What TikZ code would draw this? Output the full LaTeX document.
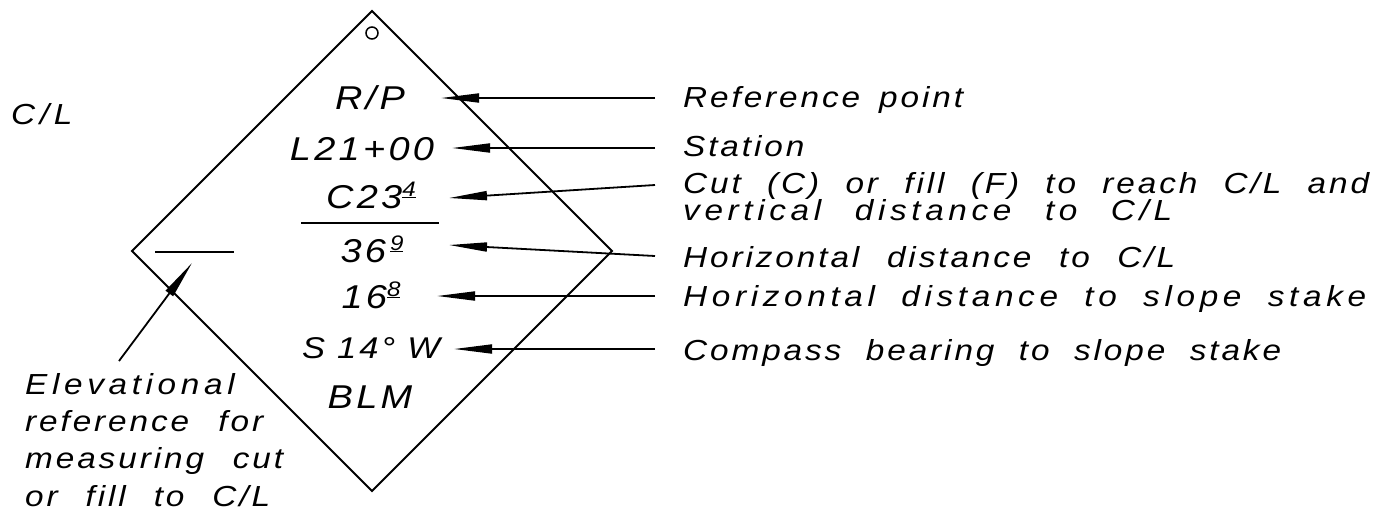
\documentclass[tikz,border=0pt]{standalone}
\usepackage{fontspec}
\setmainfont{Liberation Sans}
\newfontfamily\cadfont{Liberation Sans}[FakeStretch=1.15,LetterSpace=10,WordSpace=1.5]
\newfontfamily\cadwide{Liberation Sans}[FakeStretch=1.15,LetterSpace=16,WordSpace=1.5]
\usetikzlibrary{arrows.meta}
\newcommand\supu[1]{\raisebox{12pt}{\fontsize{21}{21}\selectfont\underline{#1}}}
\newcommand\fitw[2]{\makebox[#1][s]{#2}}
\begin{document}
\begin{tikzpicture}[x=1pt,y=-1pt,
  lbl/.style={font=\cadfont\itshape\fontsize{29}{29}\selectfont, inner sep=0pt, anchor=base west},
  ctr/.style={font=\cadfont\itshape\fontsize{33}{33}\selectfont, inner sep=0pt, anchor=base},
  ln/.style={line width=1.8pt, line join=miter},
  ldr/.style={line width=1.8pt, -{Triangle[length=38pt,width=9pt]}}]
\useasboundingbox (0,0) rectangle (1379,512);
% stake outline
\coordinate (top) at (372,11);
\coordinate (rgt) at (612,251);
\coordinate (bot) at (372,491);
\coordinate (lft) at (132,251);
\draw[ln] (top) -- (rgt) -- (bot) -- (lft) -- cycle;
\node[circle, draw, line width=1.5pt, minimum size=12pt, inner sep=0pt] (hole) at (372,33) {};
% elevation line and fraction bar
\coordinate (elA) at (155,252);
\coordinate (elB) at (234,252);
\draw[ln] (elA) -- (elB);
\coordinate (frA) at (301,223);
\coordinate (frB) at (439,223);
\draw[ln] (frA) -- (frB);
% stake texts
\node[ctr] (rp) at (370,109) {R/P};
\node[ctr] (sta) at (362,160) {L21+00};
\node[ctr] (cut) at (371,208) {C23\supu{4}};
\node[ctr] (hd) at (372,262) {36\hspace{4pt}\supu{9}};
\node[ctr] (hs) at (371,308) {16\supu{8}};
\node[ctr, font=\cadfont\itshape\fontsize{30}{30}\selectfont] (brg) at (371,358) {S\hspace{12pt}14\textdegree\hspace{12pt}W};
\node[ctr] (blm) at (370,408) {BLM};
% left texts
\node[lbl] (cl) at (11,124) {\cadwide C/L};
\node[lbl, align=left, font=\cadfont\itshape\fontsize{29}{37.3}\selectfont, anchor=north west] (elev) at (25,373)
  {{\cadwide Elevational}\\\fitw{238pt}{reference for}\\\fitw{258pt}{measuring cut}\\\fitw{245pt}{or fill to C/L}};
% right labels
\node[lbl] (lref) at (683,107) {\fitw{280pt}{Reference point}};
\node[lbl] (lsta) at (683,156) {Station};
\node[lbl] (lcut) at (683,193) {\fitw{686pt}{Cut (C) or fill (F) to reach C/L and}};
\node[lbl] (lvert) at (683,220) {\cadwide\fitw{489pt}{vertical distance to C/L}};
\node[lbl] (lhd) at (683,267) {\fitw{492pt}{Horizontal distance to C/L}};
\node[lbl] (lhs) at (683,306) {\cadwide\fitw{683pt}{Horizontal distance to slope stake}};
\node[lbl] (lbrg) at (683,360) {\fitw{598pt}{Compass bearing to slope stake}};
% leader coordinates
\coordinate (sRef) at (655,98);   \coordinate (tRef) at (441,98);
\coordinate (sSta) at (655,148);  \coordinate (tSta) at (452,148);
\coordinate (sCut) at (655,185);  \coordinate (tCut) at (449,198);
\coordinate (sHd) at (655,256);   \coordinate (tHd) at (449,245);
\coordinate (sHs) at (655,296);   \coordinate (tHs) at (437,296);
\coordinate (sBrg) at (655,349);  \coordinate (tBrg) at (454,349);
\coordinate (sEl) at (119,361);   \coordinate (tEl) at (192,263);
\draw[ldr] (sRef) -- (tRef);
\draw[ldr] (sSta) -- (tSta);
\draw[ldr] (sCut) -- (tCut);
\draw[ldr] (sHd) -- (tHd);
\draw[ldr] (sHs) -- (tHs);
\draw[ldr] (sBrg) -- (tBrg);
\draw[ldr] (sEl) -- (tEl);
\end{tikzpicture}
\end{document}
